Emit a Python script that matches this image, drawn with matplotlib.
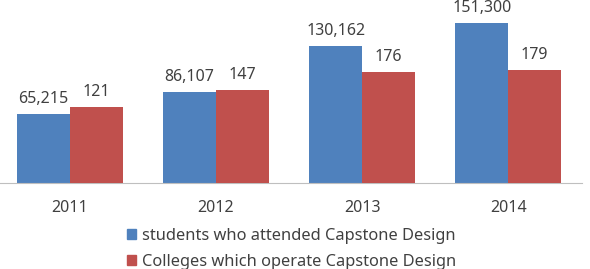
import numpy as np
import matplotlib
matplotlib.use('Agg')
import matplotlib.pyplot as plt
from matplotlib.patches import Patch

plt.rcParams['font.family'] = ['Noto Sans', 'DejaVu Sans']

# %% data
years = ['2011', '2012', '2013', '2014']
students = [65215, 86107, 130162, 151300]
colleges = [121, 147, 176, 179]
labels = ['students who attended Capstone Design', 'Colleges which operate Capstone Design']

blue = '#4F81BD'
red = '#C0504D'
txt = '#404040'

# %% plot
fig = plt.figure(figsize=(5.9, 2.69), dpi=100)
ax = fig.add_axes([0, (269 - 183) / 269, 582 / 590, 183 / 269])
ax2 = ax.twinx()

x = np.arange(len(years))
w = 0.362

b1 = ax.bar(x - w / 2, students, w, color=blue)
b2 = ax2.bar(x + w / 2, colleges, w, color=red)

ax.set_ylim(0, 173400)
ax2.set_ylim(0, 290)
ax.set_xlim(-0.477, 3.504)

for a in (ax, ax2):
    for s in ['top', 'left', 'right']:
        a.spines[s].set_visible(False)
    a.set_yticks([])
ax.spines['bottom'].set_color('#BFBFBF')
ax2.spines['bottom'].set_visible(False)

ax.set_xticks(x)
ax.set_xticklabels(years, fontsize=11.5, color=txt)
ax.tick_params(axis='x', length=0, pad=12)

# value labels above bars
for rect, v in zip(b1, students):
    ax.annotate(f'{v:,}', (rect.get_x() + rect.get_width() / 2, rect.get_height()),
                xytext=(0, 5), textcoords='offset points', ha='center', va='bottom',
                fontsize=11.5, color=txt, annotation_clip=False)
for rect, v in zip(b2, colleges):
    ax2.annotate(f'{v:,}', (rect.get_x() + rect.get_width() / 2, rect.get_height()),
                 xytext=(0, 5), textcoords='offset points', ha='center', va='bottom',
                 fontsize=11.5, color=txt, annotation_clip=False)

handles = [Patch(color=blue), Patch(color=red)]
fig.legend(handles, labels, loc='upper left', bbox_to_anchor=(126.5 / 590, 1 - 228 / 269),
           frameon=False, fontsize=11.8, labelcolor=txt, handlelength=0.6, handleheight=0.6,
           handletextpad=0.35, labelspacing=0.6, borderpad=0, borderaxespad=0)

plt.savefig('out.png', dpi=100)
